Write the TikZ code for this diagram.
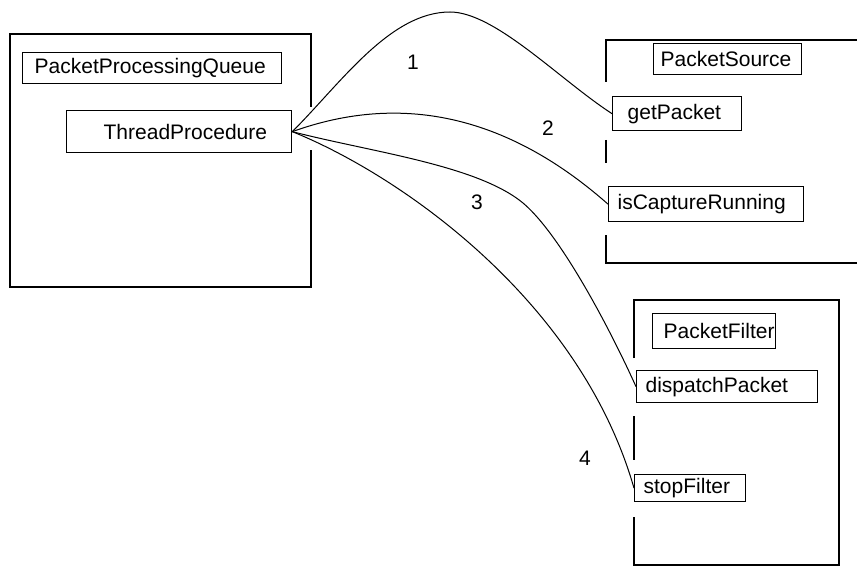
\documentclass[tikz,border=0pt]{standalone}
\usepackage{fontspec}
\usepackage{tikz}
\newfontfamily\uifont{Liberation Sans}
\usetikzlibrary{positioning}

\begin{document}
\begin{tikzpicture}[
    x=1pt, y=-1pt,
    frame/.style={line width=1.4pt},
    member/.style n args={2}{draw, line width=1.3pt, anchor=north west, inner xsep=0pt, inner ysep=0pt,
        text width=#1, align=left, font={\uifont\fontsize{21}{25}\selectfont},
        execute at begin node={\hspace*{#2}}},
    link/.style={line width=1pt},
    num/.style={font={\uifont\fontsize{21}{25}\selectfont}}
]
\useasboundingbox (0,0) rectangle (857,567);

% PacketProcessingQueue
\draw[frame] (311,107) -- (311,34) -- (10,34) -- (10,287) -- (311,287) -- (311,150);
\node[member={259pt}{12pt}, minimum height=31pt] (queue) at (22,52) {PacketProcessingQueue};
\node[member={225pt}{37pt}, minimum height=42pt] (thread) at (66,110) {ThreadProcedure};

% PacketSource
\draw[frame] (606,82) -- (606,40) -- (857,40);
\draw[frame] (606,140) -- (606,163);
\draw[frame] (606,235) -- (606,263) -- (857,263);
\node[member={148pt}{7pt}, minimum height=31pt] (source) at (653,43) {PacketSource};
\node[member={129pt}{15pt}, minimum height=34pt] (getpacket) at (612,96) {getPacket};
\node[member={195pt}{9pt}, minimum height=35pt] (running) at (608,186) {isCaptureRunning};

% PacketFilter
\draw[frame] (634,358) -- (634,300) -- (839,300) -- (839,565) -- (634,565) -- (634,517);
\draw[frame] (634,416) -- (634,460);
\node[member={123pt}{11pt}, minimum height=35pt] (filter) at (652,313) {PacketFilter};
\node[member={181pt}{9pt}, minimum height=32pt] (dispatch) at (636,370) {dispatchPacket};
\node[member={111pt}{9pt}, minimum height=27pt] (stopfilter) at (634,474) {stopFilter};

% calls
\draw[link] (thread.east) .. controls (341,83) and (390,12) .. (450,12)
    .. controls (495,12) and (560,80) .. (getpacket.west);
\draw[link] (thread.east) .. controls (380,100) and (490,100) .. (running.west);
\draw[link] (thread.east) .. controls (371,152) and (477,165) .. (523,203)
    .. controls (561,235) and (611,331) .. (dispatch.west);
\draw[link] (thread.east) .. controls (400,175) and (580,300) .. (stopfilter.west);

\node[num] (one) at (413,62) {1};
\node[num] (two) at (548,128) {2};
\node[num] (three) at (477,202) {3};
\node[num] (four) at (585,458) {4};

\end{tikzpicture}
\end{document}
